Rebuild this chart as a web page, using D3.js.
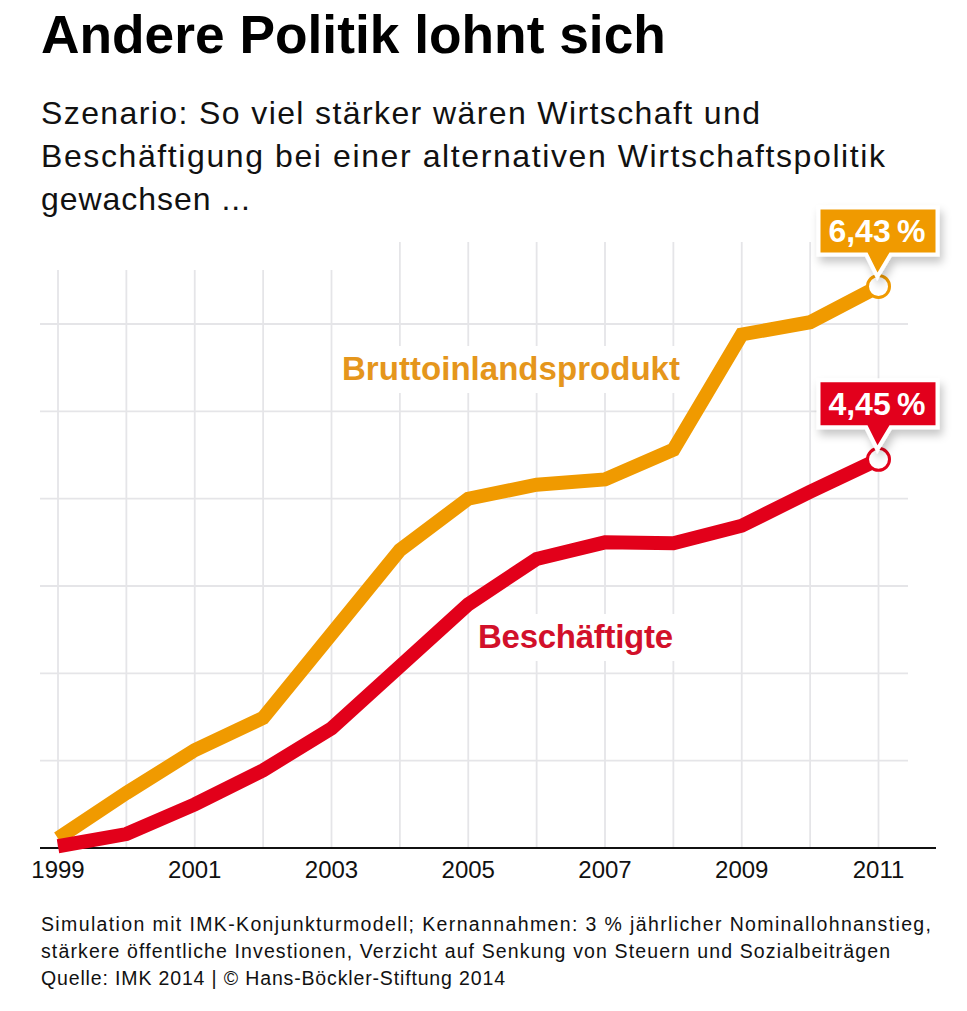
<!DOCTYPE html>
<html>
<head>
<meta charset="utf-8">
<script src="https://cdn.jsdelivr.net/npm/d3@7"></script>
<style>
  html, body { margin: 0; background: #fff; }
  svg { display: block; }
</style>
</head>
<body>
<svg id="chart"></svg>
<script>
// values, percent
const years = [1999, 2000, 2001, 2002, 2003, 2004, 2005, 2006, 2007, 2008, 2009, 2010, 2011];
const bipValues = [0.11, 0.63, 1.12, 1.49, 2.45, 3.41, 4.0, 4.16, 4.22, 4.56, 5.88, 6.02, 6.43];
const jobValues = [0.02, 0.16, 0.5, 0.89, 1.37, 2.08, 2.79, 3.31, 3.5, 3.49, 3.69, 4.08, 4.45];
const yTicks = [1, 2, 3, 4, 5, 6];
const xLabels = [1999, 2001, 2003, 2005, 2007, 2009, 2011];
const subtitleLines = ["Szenario: So viel stärker wären Wirtschaft und", "Beschäftigung bei einer alternativen Wirtschaftspolitik", "gewachsen ..."];
const noteLines = [
  "Simulation mit IMK-Konjunkturmodell; Kernannahmen: 3 % jährlicher Nominallohnanstieg,",
  "stärkere öffentliche Investionen, Verzicht auf Senkung von Steuern und Sozialbeiträgen",
  "Quelle: IMK 2014 | © Hans-Böckler-Stiftung 2014"
];

const width = 967, height = 1011;
const orange = "#f09a00", red = "#e2001a", grid = "#e5e5e8";
const font = "'Liberation Sans', Arial, sans-serif";
// the original typeface runs wider than Liberation, so stretch the spacing per line
const subtitleFit = [719, 844, 209];
const noteFit = [890, 849, 464];

const svg = d3.select("#chart").attr("width", width).attr("height", height)
  .attr("viewBox", [0, 0, width, height]).style("font-family", font);

const x = d3.scaleLinear().domain([1999, 2011]).range([58, 878.5]);
const y = d3.scaleLinear().domain([0, 6]).range([848, 324]);

const defs = svg.append("defs");
const shadow = defs.append("filter").attr("id", "shadow")
  .attr("x", "-20%").attr("y", "-20%").attr("width", "150%").attr("height", "170%");
shadow.append("feDropShadow").attr("dx", 3).attr("dy", 6).attr("stdDeviation", 4)
  .attr("flood-color", "#000").attr("flood-opacity", 0.22);

// title and subtitle
svg.append("text").attr("x", 41).attr("y", 53).attr("font-size", 53.3).attr("font-weight", 700)
  .attr("fill", "#000").text("Andere Politik lohnt sich");
svg.append("g").selectAll("text").data(subtitleLines).join("text")
  .attr("x", 41).attr("y", (d, i) => 124 + i * 43)
  .attr("font-size", 32).attr("fill", "#111")
  .attr("textLength", (d, i) => subtitleFit[i]).attr("lengthAdjust", "spacing").text(d => d);

// grid
svg.append("g").selectAll("line").data(years).join("line")
  .attr("x1", d => x(d)).attr("x2", d => x(d))
  .attr("y1", d => d < 2004 ? 270 : 242).attr("y2", y(0))
  .attr("stroke", grid).attr("stroke-width", 1.8);
svg.append("g").selectAll("line").data(yTicks).join("line")
  .attr("x1", 40).attr("x2", 908)
  .attr("y1", d => y(d)).attr("y2", d => y(d))
  .attr("stroke", grid).attr("stroke-width", 1.8);

// baseline and year labels
svg.append("line").attr("x1", 40).attr("x2", 936).attr("y1", y(0)).attr("y2", y(0))
  .attr("stroke", "#111").attr("stroke-width", 2);
svg.append("g").selectAll("text").data(xLabels).join("text")
  .attr("x", d => x(d)).attr("y", 878).attr("text-anchor", "middle")
  .attr("font-size", 24).attr("fill", "#111").text(d => d);

// white patches that interrupt the grid behind the series labels
function seriesLabel(text, xPos, yPos, color, labelWidth) {
  svg.append("rect").attr("x", xPos - 6).attr("y", yPos - 34).attr("width", labelWidth + 12).attr("height", 47).attr("fill", "#fff");
  svg.append("text").attr("x", xPos).attr("y", yPos).attr("font-size", 33).attr("font-weight", 700)
    .attr("textLength", labelWidth).attr("lengthAdjust", "spacing")
    .attr("fill", color).text(text);
}
seriesLabel("Bruttoinlandsprodukt", 342, 380, "#e5961c", 338);
seriesLabel("Beschäftigte", 478, 648, "#d2102a", 195);

// series
const line = d3.line().x((d, i) => x(years[i])).y(d => y(d));
[[bipValues, orange], [jobValues, red]].forEach(([values, color]) => {
  svg.append("path").attr("d", line(values)).attr("fill", "none")
    .attr("stroke", color).attr("stroke-width", 14).attr("stroke-linejoin", "miter");
  svg.append("circle").attr("cx", x(2011)).attr("cy", y(values[values.length - 1])).attr("r", 11)
    .attr("fill", "#fff").attr("stroke", color).attr("stroke-width", 3);
});

// callouts
function callout(value, color, label) {
  const px = x(2011), py = y(value);
  const top = py - 77, bw = 115, bh = 43, left = px - 58;
  const pointer = d3.path();
  pointer.moveTo(left, top); pointer.lineTo(left + bw, top); pointer.lineTo(left + bw, top + bh);
  pointer.lineTo(px + 11, top + bh); pointer.lineTo(px - 1, py - 14); pointer.lineTo(px - 11, top + bh);
  pointer.lineTo(left, top + bh); pointer.closePath();
  svg.append("path").attr("d", pointer.toString()).attr("fill", color)
    .attr("stroke", "#fff").attr("stroke-width", 8).attr("paint-order", "stroke")
    .attr("filter", "url(#shadow)");
  svg.append("text").attr("x", left + bw / 2 - 1).attr("y", top + 33).attr("text-anchor", "middle")
    .attr("font-size", 32).attr("font-weight", 700).attr("fill", "#fff").text(label);
}
callout(bipValues[12], orange, "6,43\u2009%");
callout(jobValues[12], red, "4,45\u2009%");

// footnote
svg.append("g").selectAll("text").data(noteLines).join("text")
  .attr("x", 41).attr("y", (d, i) => 931 + i * 27)
  .attr("font-size", 19.5).attr("fill", "#111")
  .attr("textLength", (d, i) => noteFit[i]).attr("lengthAdjust", "spacing").text(d => d);
</script>
</body>
</html>
